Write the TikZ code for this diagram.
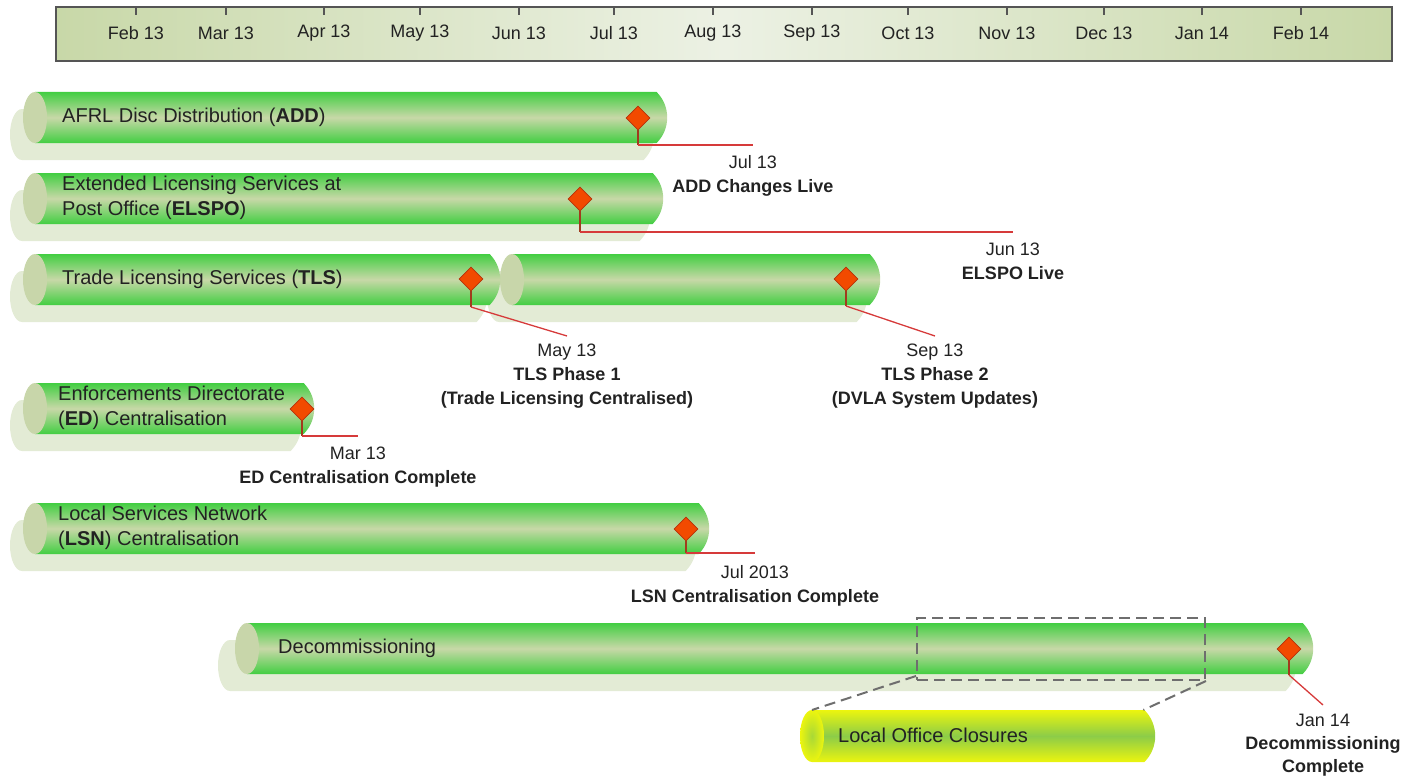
\documentclass[tikz,border=0pt]{standalone}
\usepackage{fontspec}
\setmainfont{Liberation Sans}
\usetikzlibrary{shapes.geometric, shapes.misc, shadows}
\definecolor{hdrdark}{RGB}{200,216,168}
\definecolor{hdrlight}{RGB}{236,241,228}
\definecolor{hdredge}{RGB}{85,85,85}
\definecolor{bargreen}{RGB}{66,206,66}
\definecolor{barpale}{RGB}{200,216,168}
\definecolor{capfill}{RGB}{200,214,170}
\definecolor{shadowgreen}{RGB}{227,235,213}
\definecolor{locyellow}{RGB}{236,245,14}
\definecolor{locmid}{RGB}{140,204,72}
\definecolor{msred}{RGB}{242,74,0}
\definecolor{msedge}{RGB}{180,50,10}
\definecolor{linkred}{RGB}{214,58,58}
\definecolor{stubbrown}{RGB}{160,60,30}
\definecolor{txtgray}{RGB}{34,34,34}
\definecolor{zoomgray}{RGB}{110,110,110}

\begin{document}
\begin{tikzpicture}[
    x=1pt, y=-1pt,
    header/.style={rectangle, draw=hdredge, line width=1.5pt, minimum width=1336pt, minimum height=54pt,
                left color=hdrdark, right color=hdrdark, middle color=hdrlight},
    tick/.style={hdredge, line width=1.2pt},
    month/.style={font=\fontsize{18}{22}\selectfont, text=txtgray},
    barbody/.style={shape=rounded rectangle, rounded rectangle west arc=none, rounded rectangle arc length=90,
                minimum height=51pt, inner sep=0pt, anchor=west,
                top color=bargreen, bottom color=bargreen, middle color=barpale,
                general shadow={fill=shadowgreen, shadow xshift=-#1, shadow yshift=-17pt}},
    barbody/.default=13pt,
    barcap/.style={ellipse, minimum width=24pt, minimum height=51pt, inner sep=0pt, fill=capfill,
                general shadow={fill=shadowgreen, shadow xshift=-#1, shadow yshift=-17pt}},
    barcap/.default=13pt,
    locbody/.style={shape=rounded rectangle, rounded rectangle west arc=none, rounded rectangle arc length=90,
                minimum height=52pt, inner sep=0pt, anchor=west,
                top color=locyellow, bottom color=locyellow, middle color=locmid},
    loccap/.style={ellipse, minimum width=24pt, minimum height=52pt, inner sep=0pt,
                inner color=locmid!70!locyellow, outer color=locyellow},
    barlabel/.style={anchor=west, align=left, inner sep=0pt, font=\fontsize{20}{25}\selectfont, text=txtgray},
    milestone/.style={diamond, minimum width=24pt, minimum height=24pt, inner sep=0pt,
                fill=msred, draw=msedge, line width=0.8pt},
    msstub/.style={draw=stubbrown, line width=1.3pt},
    mslink/.style={draw=linkred, line width=1.3pt},
    mstext/.style={anchor=north, align=center, inner sep=0pt, font=\fontsize{18}{24}\selectfont, text=txtgray},
    zoombox/.style={rectangle, draw=zoomgray, line width=2pt, dash pattern=on 11pt off 6pt,
                minimum width=288pt, minimum height=62pt},
    zoomline/.style={draw=zoomgray, line width=2pt, dash pattern=on 11pt off 6pt}
]
\useasboundingbox (0,0) rectangle (1417,776);

% time scale
\node[header] (hdr) at (724,34) {};
\foreach \mon/\x in {Feb 13/136, Mar 13/226, Apr 13/324, May 13/420, Jun 13/519, Jul 13/614, Aug 13/713,
                     Sep 13/812, Oct 13/908, Nov 13/1007, Dec 13/1104, Jan 14/1202, Feb 14/1301} {
  \draw[tick] (\x,7) -- (\x,15);
  \node[month] (m\x) at (\x,33) {\mon};
}

% work streams
\node[barbody, minimum width=632pt] (addbar) at (35,117.5) {};
\node[barcap] (addcap) at (addbar.west) {};
\node[barbody, minimum width=628pt] (elspobar) at (35,198.5) {};
\node[barcap] (elspocap) at (elspobar.west) {};
\node[barbody, minimum width=368pt] (tlsbarb) at (512,279.5) {};
\node[barcap] (tlscapb) at (tlsbarb.west) {};
\node[barbody, minimum width=465pt] (tlsbara) at (35,279.5) {};
\node[barcap] (tlscapa) at (tlsbara.west) {};
\node[barbody, minimum width=279pt] (edbar) at (35,408.5) {};
\node[barcap] (edcap) at (edbar.west) {};
\node[barbody, minimum width=674pt] (lsnbar) at (35,528.5) {};
\node[barcap] (lsncap) at (lsnbar.west) {};
\node[barbody=17pt, minimum width=1066pt] (decombar) at (247,648.5) {};
\node[barcap=17pt] (decomcap) at (decombar.west) {};

\node[barlabel] (addtxt) at (62,117.5) {AFRL Disc Distribution (\textbf{ADD})};
\node[barlabel] (elspotxt) at (62,198) {Extended Licensing Services at\\Post Office (\textbf{ELSPO})};
\node[barlabel] (tlstxt) at (62,279) {Trade Licensing Services (\textbf{TLS})};
\node[barlabel] (edtxt) at (58,408) {Enforcements Directorate\\(\textbf{ED}) Centralisation};
\node[barlabel] (lsntxt) at (58,528) {Local Services Network\\(\textbf{LSN}) Centralisation};
\node[barlabel] (decomtxt) at (278,648) {Decommissioning};

% milestones
\node[milestone] (addms) at (638,118) {};
\coordinate (addknee) at (638,145);
\coordinate (addend) at (753,145);
\draw[msstub] (addms.south) -- (addknee);
\draw[mslink] (addknee) -- (addend);
\node[mstext] (addlbl) at (753,155) {Jul 13\\\textbf{ADD Changes Live}};

\node[milestone] (elspoms) at (580,199) {};
\coordinate (elspoknee) at (580,232);
\coordinate (elspoend) at (1013,232);
\draw[msstub] (elspoms.south) -- (elspoknee);
\draw[mslink] (elspoknee) -- (elspoend);
\node[mstext] (elspolbl) at (1013,243) {Jun 13\\\textbf{ELSPO Live}};

\node[milestone] (tlsmsa) at (471,279) {};
\coordinate (tlskneea) at (471,307);
\coordinate (tlsenda) at (567,336);
\draw[msstub] (tlsmsa.south) -- (tlskneea);
\draw[mslink] (tlskneea) -- (tlsenda);
\node[mstext] (tlslbla) at (567,344) {May 13\\\textbf{TLS Phase 1}\\\textbf{(Trade Licensing Centralised)}};

\node[milestone] (tlsmsb) at (846,279) {};
\coordinate (tlskneeb) at (846,306);
\coordinate (tlsendb) at (935,336);
\draw[msstub] (tlsmsb.south) -- (tlskneeb);
\draw[mslink] (tlskneeb) -- (tlsendb);
\node[mstext] (tlslblb) at (935,344) {Sep 13\\\textbf{TLS Phase 2}\\\textbf{(DVLA System Updates)}};

\node[milestone] (edms) at (302,409) {};
\coordinate (edknee) at (302,436);
\coordinate (edend) at (358,436);
\draw[msstub] (edms.south) -- (edknee);
\draw[mslink] (edknee) -- (edend);
\node[mstext] (edlbl) at (358,447) {Mar 13\\\textbf{ED Centralisation Complete}};

\node[milestone] (lsnms) at (686,529) {};
\coordinate (lsnknee) at (686,553);
\coordinate (lsnend) at (755,553);
\draw[msstub] (lsnms.south) -- (lsnknee);
\draw[mslink] (lsnknee) -- (lsnend);
\node[mstext] (lsnlbl) at (755,565) {Jul 2013\\\textbf{LSN Centralisation Complete}};

\node[milestone] (decomms) at (1289,649) {};
\coordinate (decomknee) at (1289,675);
\coordinate (decomend) at (1323,705);
\draw[msstub] (decomms.south) -- (decomknee);
\draw[mslink] (decomknee) -- (decomend);
\node[mstext, font=\fontsize{18}{23}\selectfont] (decomlbl) at (1323,714) {Jan 14\\\textbf{Decommissioning}\\\textbf{Complete}};

% zoomed part of decommissioning
\node[zoombox] (decomzoom) at (1061,649) {};
\node[locbody, minimum width=343pt] (locbar) at (812,736) {};
\node[loccap] (loccap) at (locbar.west) {};
\node[barlabel] (loctxt) at (838,735) {Local Office Closures};
\draw[zoomline] ([yshift=5pt]decomzoom.south west) -- ([yshift=26pt]locbar.west);
\draw[zoomline] (decomzoom.south east) -- ([shift={(-12,-26)}]locbar.east);
\end{tikzpicture}
\end{document}
